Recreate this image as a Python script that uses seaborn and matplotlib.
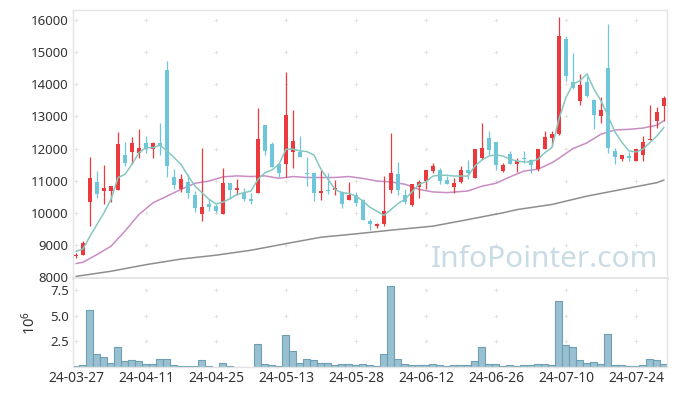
import numpy as np
import pandas as pd
import matplotlib.pyplot as plt
import seaborn as sns

# tick labels (every 10 trading days)
tick_pos = [0, 10, 20, 30, 40, 50, 60, 70, 80]
tick_labels = ['24-03-27', '24-04-11', '24-04-25', '24-05-13', '24-05-28',
               '24-06-12', '24-06-26', '24-07-10', '24-07-24']

opens = [8650, 8680, 10330, 10970, 10680, 10680, 10710, 11790, 11880, 11850,
         12160, 12000, 12190, 14450, 11130, 10730, 10960, 10540, 9970, 10280,
         10210, 9970, 10920, 10710, 10630, 10440, 10630, 12730, 12140, 11510,
         11530, 11900, 11880, 11230, 11230, 10620, 10700, 10710, 10650, 10400,
         10570, 10400, 9740, 9580, 9640, 10700, 11200, 10550, 10240, 10800,
         10990, 11310, 11320, 11010, 10810, 10960, 11320, 11070, 11720, 12320,
         12220, 11310, 11820, 11510, 11720, 11640, 11360, 12000, 12320, 12450,
         15420, 14060, 13490, 14060, 13510, 13000, 14500, 11910, 11670, 11740,
         11600, 11800, 12260, 12850, 13340]
highs = [8760, 9110, 11750, 11300, 11480, 10840, 12530, 12220, 12350, 12610,
         12400, 12210, 12810, 14740, 11380, 11220, 11200, 10680, 12010, 10420,
         10260, 11410, 10940, 11060, 10780, 10630, 13280, 12730, 12220, 11510,
         14400, 13200, 12400, 11740, 11230, 11330, 11250, 11020, 10680, 10960,
         10660, 10420, 9820, 9690, 11150, 12500, 11590, 10730, 10890, 11010,
         11320, 11560, 11410, 11150, 11090, 11460, 11650, 11980, 12810, 12550,
         12220, 11540, 11930, 11700, 11930, 11670, 12000, 12550, 12550, 16100,
         15500, 14980, 14330, 14250, 13560, 13600, 15890, 12030, 11810, 11880,
         12000, 12400, 13370, 13300, 13650]
lows = [8580, 8680, 9580, 10470, 10290, 10330, 10710, 11460, 11510, 11700,
        11860, 11700, 11800, 11130, 10730, 10650, 10470, 10030, 9750, 10050,
        9990, 9950, 10420, 10570, 10370, 10260, 10630, 11800, 11430, 11130,
        11130, 11410, 11740, 10830, 10370, 10400, 10600, 10550, 10160, 10400,
        10210, 9790, 9480, 9530, 9600, 10630, 10570, 10280, 10210, 10470,
        10730, 11230, 10890, 10890, 10630, 10940, 11060, 11070, 11670, 11800,
        11320, 11280, 11510, 11280, 11560, 11230, 11300, 12000, 12090, 12420,
        14090, 13860, 13370, 13600, 12610, 12810, 11860, 11510, 11600, 11620,
        11600, 11620, 12260, 12640, 12850]
closes = [8690, 9060, 11090, 10600, 10780, 10830, 12140, 11560, 12190, 12030,
          11980, 12160, 12090, 11460, 10870, 11060, 10630, 10140, 10190, 10180,
          10050, 10920, 10710, 10780, 10420, 10360, 12290, 11930, 11430, 11230,
          13040, 12230, 11740, 11210, 10630, 10680, 10670, 10760, 10280, 10570,
          10310, 9790, 9660, 9640, 10070, 11250, 10700, 10330, 10890, 10970,
          11320, 11460, 10990, 10910, 10940, 11320, 11230, 11980, 12010, 11960,
          11490, 11490, 11530, 11620, 11670, 11490, 12000, 12350, 12470, 15500,
          14270, 13890, 13990, 13630, 13040, 13200, 12030, 11740, 11810, 11720,
          12000, 12220, 12290, 13130, 13580]
volume = [0.10, 0.16, 5.54, 1.24, 0.95, 0.36, 1.92, 0.55, 0.65, 0.55,
          0.26, 0.26, 0.75, 0.75, 0.20, 0.07, 0.07, 0.07, 0.65, 0.07,
          0.02, 0.36, 0.07, 0.02, 0.02, 0.02, 2.22, 0.26, 0.16, 0.07,
          3.16, 1.60, 0.36, 0.75, 0.65, 0.36, 0.36, 0.16, 0.33, 0.33,
          0.23, 0.33, 0.16, 0.07, 1.30, 7.89, 0.82, 0.33, 0.23, 0.23,
          0.23, 0.33, 0.23, 0.07, 0.16, 0.23, 0.23, 0.62, 1.99, 0.33,
          0.33, 0.07, 0.16, 0.07, 0.16, 0.16, 0.33, 0.33, 0.23, 6.49,
          2.18, 1.92, 0.72, 0.42, 0.52, 0.33, 3.26, 0.23, 0.16, 0.07,
          0.07, 0.16, 0.82, 0.72, 0.33]

# moving averages
ma_short = [8800, 8875, 9270, 9640, 10000, 10420, 11095, 11200, 11510, 11875,
            12030, 12030, 12105, 11930, 11720, 11510, 11150, 10835, 10625, 10420,
            10275, 10335, 10440, 10575, 10625, 10680, 11045, 11250, 11335, 11510,
            11980, 11980, 11930, 11905, 11800, 11355, 11045, 10730, 10625, 10605,
            10520, 10365, 10170, 10050, 9920, 10100, 10290, 10420, 10650, 10885,
            10970, 11145, 11170, 11170, 11145, 11145, 11145, 11460, 11645, 11770,
            11805, 11770, 11670, 11615, 11585, 11585, 11670, 11875, 12035, 12920,
            13595, 14010, 14115, 14325, 13855, 13490, 13020, 12520, 12190, 11930,
            11895, 11980, 12190, 12395, 12660]
ma_mid_idx = [0, 1, 3, 5, 7, 9, 11, 13, 15, 17, 19, 21, 23, 25, 27, 29, 31, 33,
              35, 37, 39, 41, 43, 45, 47, 49, 51, 53, 56, 58, 60, 62, 64, 66,
              68, 69, 71, 73, 75, 77, 79, 81, 83, 84]
ma_mid = [8420, 8460, 8700, 8960, 9430, 9950, 10310, 10520, 10730, 10920,
          10990, 11120, 11150, 11130, 11150, 11075, 11130, 11100, 11100, 11100,
          11130, 11070, 10990, 10960, 10890, 10730, 10650, 10630, 10680, 10830,
          10920, 11120, 11300, 11360, 11560, 11700, 12000, 12180, 12450, 12580,
          12600, 12640, 12730, 12870]
ma_long_idx = [0, 5, 10, 15, 20, 25, 30, 35, 40, 45, 51, 56, 61, 63, 68, 73, 78, 83, 84]
ma_long = [8020, 8180, 8385, 8560, 8680, 8835, 9040, 9240, 9345, 9460,
           9585, 9790, 10000, 10100, 10260, 10520, 10730, 10940, 11020]

df = pd.DataFrame({'i': np.arange(len(closes)), 'open': opens, 'high': highs,
                   'low': lows, 'close': closes, 'volume': volume})
df['up'] = df['close'] >= df['open']

sns.set_style('white')
plt.rcParams['font.family'] = ['Noto Sans', 'DejaVu Sans']

red = '#ea3a3d'
blue = '#6ec6da'
frame = '#e4e4e4'
txt = '#333333'

fig = plt.figure(figsize=(6.77, 3.96), dpi=100)
ax = fig.add_axes([0.1078, 0.298, 0.8774, 0.677])
axv = fig.add_axes([0.1078, 0.0732, 0.8774, 0.2223])

# grid crosses
gx, gy = np.meshgrid(tick_pos, np.arange(9000, 16001, 1000))
ax.scatter(gx.ravel(), gy.ravel(), marker='+', s=9, color='#e3e3e3', linewidths=0.7, zorder=0)
gx, gy = np.meshgrid(tick_pos, [2.5, 5.0, 7.5])
axv.scatter(gx.ravel(), gy.ravel(), marker='+', s=9, color='#e3e3e3', linewidths=0.7, zorder=0)

ax.text(0.985, 0.042, 'InfoPointer.com', transform=ax.transAxes, ha='right', va='baseline',
        fontsize=21.5, color='#c9dce6', zorder=0.5)

# moving averages
sns.lineplot(x=ma_long_idx, y=ma_long, ax=ax, color='#8e8e8e', linewidth=1.1, zorder=2)
sns.lineplot(x=ma_mid_idx, y=ma_mid, ax=ax, color='#c98cc4', linewidth=1.1, zorder=2)
sns.lineplot(x=df['i'], y=ma_short, ax=ax, color='#86c8c0', linewidth=1.1, zorder=4)

# candles
colors = np.where(df['up'], red, blue)
ax.vlines(df['i'], df['low'], df['high'], colors=colors, linewidth=0.9, zorder=3)
body_lo = np.minimum(df['open'], df['close'])
body_h = np.maximum(np.abs(df['close'] - df['open']), 40)
ax.bar(df['i'], body_h, bottom=body_lo, width=0.7, color=colors, linewidth=0, zorder=3)

ax.set_xlim(-0.43, 84.43)
ax.set_ylim(7970, 16320)
ax.set_yticks(range(8000, 16001, 1000))
ax.set_xticks([])
ax.set_xlabel('')
ax.set_ylabel('')

# volume
sns.barplot(data=df, x='i', y='volume', ax=axv, color='#98c0d0', edgecolor='#6e9fb5',
            linewidth=0.8, width=1.0, saturation=1, errorbar=None, zorder=2)
axv.set_xlim(-0.43, 84.43)
axv.set_ylim(0, 8.6)
axv.set_yticks([2.5, 5.0, 7.5])
axv.set_yticklabels(['2.5', '5.0', '7.5'])
axv.set_xticks(tick_pos)
axv.set_xticklabels(tick_labels)
axv.set_xlabel('')
axv.set_ylabel(r'$\mathregular{10^6}$', fontsize=10.5, color=txt, labelpad=8)

for a in (ax, axv):
    a.tick_params(axis='both', length=0, labelsize=9.5, labelcolor=txt, pad=3)
    for s in a.spines.values():
        s.set_color(frame)
        s.set_linewidth(1.0)
axv.tick_params(axis='x', labelsize=10)
ax.spines['bottom'].set_linewidth(2.0)
axv.spines['top'].set_visible(False)

fig.savefig('out.png', dpi=100, facecolor='white')
